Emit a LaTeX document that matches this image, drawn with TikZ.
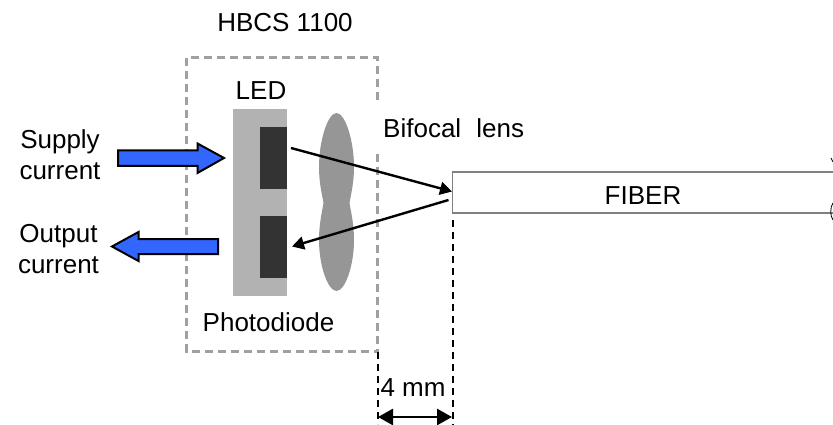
\documentclass[tikz,border=0pt]{standalone}
\usepackage{fontspec}
\setmainfont{Liberation Sans}
\usetikzlibrary{arrows.meta}
\definecolor{boxgray}{HTML}{A0A0A0}
\definecolor{bodygray}{HTML}{B2B2B2}
\definecolor{chipgray}{HTML}{333333}
\definecolor{lensgray}{HTML}{969696}
\definecolor{fiberedge}{HTML}{808080}
\definecolor{flowblue}{HTML}{3366FF}
\tikzset{
  lbl/.style={inner sep=0pt,font=\fontsize{26}{31}\selectfont,text=black,align=center},
  housing/.style={draw=boxgray,line width=2.2pt,dash pattern=on 8pt off 5pt},
  ray/.style={black,line width=2.4pt},
  rayhead/.style={-{Triangle[length=12pt,width=13pt]}},
  flow/.style={draw=black,fill=flowblue,line width=2pt,miter limit=10},
  dim/.style={black,line width=2pt,dash pattern=on 7pt off 5pt},
  block/.style={inner sep=0pt,outer sep=0pt,minimum width=#1},
}
\begin{document}
\begin{tikzpicture}[x=1pt,y=-1pt]
\useasboundingbox (0,0) rectangle (833,425);
% housing
\draw[housing] (377.5,100) -- (377.5,57.5) -- (186.5,57.5) -- (186.5,351.5) -- (377.5,351.5);
\draw[housing] (377.5,154) -- (377.5,351.5);
% LED/photodiode body
\node[block=54pt,minimum height=187pt,fill=bodygray] (body) at (260,202.5) {};
\node[block=27pt,minimum height=62pt,fill=chipgray] (led) at (273.5,158) {};
\node[block=27pt,minimum height=62pt,fill=chipgray] (pd) at (273.5,247) {};
% lens
\fill[lensgray] (336.5,113)
  .. controls (345,113) and (354,140) .. (354,167)
  .. controls (354,183) and (351,194) .. (349.5,203)
  .. controls (351,212) and (354,224) .. (354,240)
  .. controls (354,266) and (345,291) .. (336.5,291)
  .. controls (328,291) and (319,266) .. (319,240)
  .. controls (319,224) and (322,212) .. (323.5,203)
  .. controls (322,194) and (319,183) .. (319,167)
  .. controls (319,140) and (328,113) .. (336.5,113) -- cycle;
% fiber
\draw[fiberedge,line width=1.8pt] (833,172) -- (452.5,172) -- (452.5,213) -- (833,213);
\node[lbl] (fiber) at (643,196) {FIBER};
\coordinate (fiberin) at (452,191.5);
\coordinate (fiberout) at (448.5,200);
\coordinate (ledout) at (291,148);
\coordinate (pdin) at (292,246.5);
\draw[ray,rayhead] (ledout) -- (fiberin);
\draw[ray,rayhead] (fiberout) -- (pdin);
% fragments at the right edge
\draw[black,line width=0.8pt] (831,158) -- (833,162);
\draw[black,line width=0.8pt] (833,203) .. controls (830,207) and (830,216) .. (833,220);
% block arrows
\draw[flow] (118,150.5) -- (197.5,150.5) -- (197.5,143.5) -- (224,158) -- (197.5,173) -- (197.5,166) -- (118,166) -- cycle;
\draw[flow] (218,239) -- (138.5,239) -- (138.5,232) -- (112,246.5) -- (138.5,261) -- (138.5,254) -- (218,254) -- cycle;
% dimension
\draw[dim] (377.5,352) -- (377.5,424);
\draw[dim] (452.5,220) -- (452.5,425);
\coordinate (diml) at (378,417);
\coordinate (dimr) at (452,417);
\draw[black,line width=2.6pt,{Triangle[length=15pt,width=16pt]}-{Triangle[length=15pt,width=16pt]}] (diml) -- (dimr);
% labels
\node[lbl] (hbcs) at (285,23) {HBCS 1100};
\node[lbl] (ledlbl) at (261,91) {LED};
\node[lbl,anchor=west] (lens) at (383,128) {Bifocal\hspace{8pt} lens};
\node[lbl] (supply) at (60,154.5) {Supply\\current};
\node[lbl] (output) at (58.5,249.5) {Output\\current};
\node[lbl] (photo) at (268.5,322) {Photodiode};
\node[lbl] (four) at (413,388) {4 mm};
\end{tikzpicture}
\end{document}
